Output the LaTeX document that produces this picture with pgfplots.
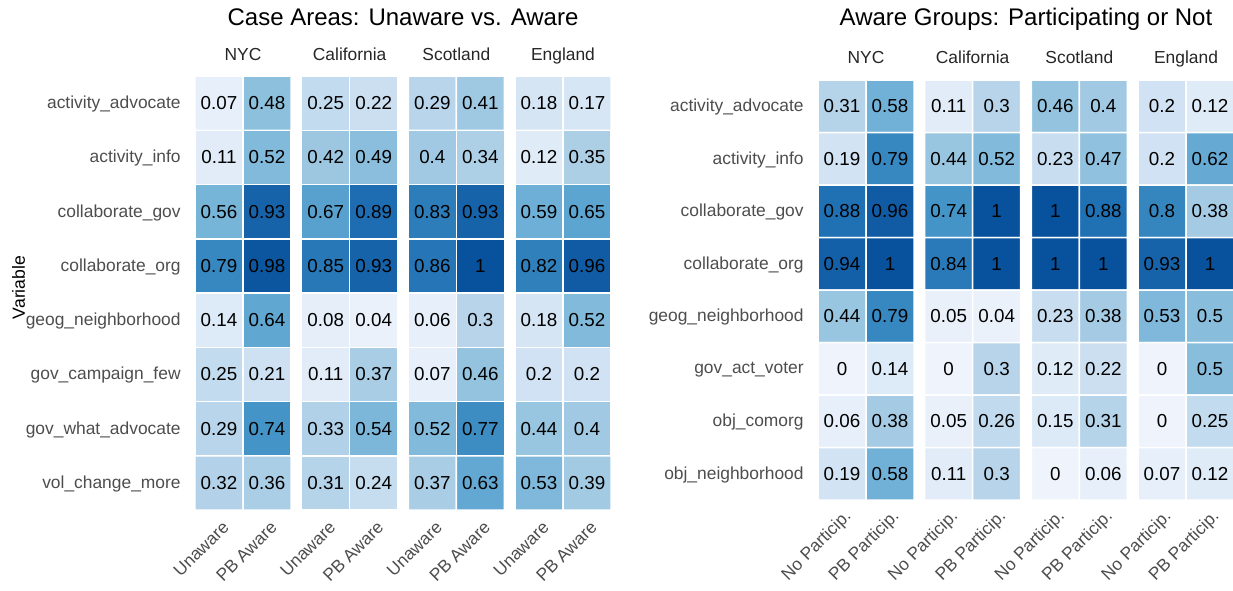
\documentclass[border=0pt]{standalone}
\usepackage{pgfplots}
\pgfplotsset{compat=1.18}
\usepackage{pgfplotstable}
\usepackage{fontspec}
\setmainfont{Liberation Sans}
\definecolor{ticktxt}{HTML}{4D4D4D}
\definecolor{facettxt}{HTML}{262626}

\pgfplotsset{
  colormap={sbblues}{rgb255(0pt)=(239,244,252) rgb255(15pt)=(220,233,247) rgb255(30pt)=(183,212,234) rgb255(45pt)=(150,196,223) rgb255(60pt)=(107,174,214) rgb255(75pt)=(66,146,198) rgb255(87.5pt)=(33,113,181) rgb255(100pt)=(8,81,156)},
  heat/.style={matrix plot*, shader=faceted, faceted color=white, line width=0.75pt, mesh/cols=2, point meta=explicit},
  annot/.style={only marks, mark=*, mark size=0pt, mark options={draw=none,fill=none}, point meta=explicit,
    nodes near coords={\pgfmathprintnumber[assume math mode=true,fixed,precision=2]{\pgfplotspointmeta}},
    every node near coord/.append style={anchor=center, text=black, font=\fontsize{9.4}{11}\selectfont}},
  panel/.style={scale only axis, width=208pt,
    xmin=-0.5, xmax=8.1667, ymin=-0.5, ymax=7.5, y dir=reverse,
    axis line style={draw=none}, major tick length=0pt, clip=false,
    colormap name=sbblues, point meta min=0, point meta max=1,
    xtick={0,1,2.2222,3.2222,4.4444,5.4444,6.6667,7.6667},
    ytick={0,1,2,3,4,5,6,7},
    ticklabel style={font=\fontsize{8.7}{10}\selectfont, text=ticktxt},
    yticklabel style={anchor=east, inner sep=0pt, xshift=-7pt, yshift=-0.5pt},
    xticklabel style={xshift=3.5pt, yshift=-7pt, rotate=45, anchor=east, inner sep=0pt},
  },
}
\tikzset{facet/.style={anchor=base, font=\fontsize{8.7}{10}\selectfont, text=facettxt}}

% Left panel: Unaware (c=0) vs PB Aware (c=1)
\pgfplotstableread{
c r v
0 0 0.07
1 0 0.48
0 1 0.11
1 1 0.52
0 2 0.56
1 2 0.93
0 3 0.79
1 3 0.98
0 4 0.14
1 4 0.64
0 5 0.25
1 5 0.21
0 6 0.29
1 6 0.74
0 7 0.32
1 7 0.36
}\LNYC
\pgfplotstableread{
c r v
0 0 0.25
1 0 0.22
0 1 0.42
1 1 0.49
0 2 0.67
1 2 0.89
0 3 0.85
1 3 0.93
0 4 0.08
1 4 0.04
0 5 0.11
1 5 0.37
0 6 0.33
1 6 0.54
0 7 0.31
1 7 0.24
}\LCAL
\pgfplotstableread{
c r v
0 0 0.29
1 0 0.41
0 1 0.4
1 1 0.34
0 2 0.83
1 2 0.93
0 3 0.86
1 3 1
0 4 0.06
1 4 0.3
0 5 0.07
1 5 0.46
0 6 0.52
1 6 0.77
0 7 0.37
1 7 0.63
}\LSCO
\pgfplotstableread{
c r v
0 0 0.18
1 0 0.17
0 1 0.12
1 1 0.35
0 2 0.59
1 2 0.65
0 3 0.82
1 3 0.96
0 4 0.18
1 4 0.52
0 5 0.2
1 5 0.2
0 6 0.44
1 6 0.4
0 7 0.53
1 7 0.39
}\LENG

% Right panel: No Particip. (c=0) vs PB Particip. (c=1)
\pgfplotstableread{
c r v
0 0 0.31
1 0 0.58
0 1 0.19
1 1 0.79
0 2 0.88
1 2 0.96
0 3 0.94
1 3 1
0 4 0.44
1 4 0.79
0 5 0
1 5 0.14
0 6 0.06
1 6 0.38
0 7 0.19
1 7 0.58
}\RNYC
\pgfplotstableread{
c r v
0 0 0.11
1 0 0.3
0 1 0.44
1 1 0.52
0 2 0.74
1 2 1
0 3 0.84
1 3 1
0 4 0.05
1 4 0.04
0 5 0
1 5 0.3
0 6 0.05
1 6 0.26
0 7 0.11
1 7 0.3
}\RCAL
\pgfplotstableread{
c r v
0 0 0.46
1 0 0.4
0 1 0.23
1 1 0.47
0 2 1
1 2 0.88
0 3 1
1 3 1
0 4 0.23
1 4 0.38
0 5 0.12
1 5 0.22
0 6 0.15
1 6 0.31
0 7 0
1 7 0.06
}\RSCO
\pgfplotstableread{
c r v
0 0 0.2
1 0 0.12
0 1 0.2
1 1 0.62
0 2 0.8
1 2 0.38
0 3 0.93
1 3 1
0 4 0.53
1 4 0.5
0 5 0
1 5 0.5
0 6 0
1 6 0.25
0 7 0.07
1 7 0.12
}\RENG

\begin{document}
\begin{tikzpicture}[x=1pt,y=1pt]
\useasboundingbox (0,0) rectangle (616.5,-295);

\begin{axis}[panel, at={(97.5pt,-255pt)}, anchor=south west, height=217pt,
  xticklabels={Unaware,PB Aware,Unaware,PB Aware,Unaware,PB Aware,Unaware,PB Aware},
  yticklabels={activity\_advocate,activity\_info,collaborate\_gov,collaborate\_org,geog\_neighborhood,gov\_campaign\_few,gov\_what\_advocate,vol\_change\_more},
]
\addplot[heat] table[x expr=\thisrow{c}, y=r, meta=v] \LNYC;
\addplot[heat] table[x expr=\thisrow{c}+2.2222, y=r, meta=v] \LCAL;
\addplot[heat] table[x expr=\thisrow{c}+4.4444, y=r, meta=v] \LSCO;
\addplot[heat] table[x expr=\thisrow{c}+6.6667, y=r, meta=v] \LENG;
\addplot[annot] table[x expr=\thisrow{c}, y=r, meta=v] \LNYC;
\addplot[annot] table[x expr=\thisrow{c}+2.2222, y=r, meta=v] \LCAL;
\addplot[annot] table[x expr=\thisrow{c}+4.4444, y=r, meta=v] \LSCO;
\addplot[annot] table[x expr=\thisrow{c}+6.6667, y=r, meta=v] \LENG;
\node[facet] at (axis cs:0.5,-0.795) {NYC};
\node[facet] at (axis cs:2.7222,-0.795) {California};
\node[facet] at (axis cs:4.9444,-0.795) {Scotland};
\node[facet] at (axis cs:7.1667,-0.795) {England};
\end{axis}

\begin{axis}[panel, at={(409pt,-250pt)}, anchor=south west, height=210pt,
  xticklabels={No Particip.,PB Particip.,No Particip.,PB Particip.,No Particip.,PB Particip.,No Particip.,PB Particip.},
  yticklabels={activity\_advocate,activity\_info,collaborate\_gov,collaborate\_org,geog\_neighborhood,gov\_act\_voter,obj\_comorg,obj\_neighborhood},
]
\addplot[heat] table[x expr=\thisrow{c}, y=r, meta=v] \RNYC;
\addplot[heat] table[x expr=\thisrow{c}+2.2222, y=r, meta=v] \RCAL;
\addplot[heat] table[x expr=\thisrow{c}+4.4444, y=r, meta=v] \RSCO;
\addplot[heat] table[x expr=\thisrow{c}+6.6667, y=r, meta=v] \RENG;
\addplot[annot] table[x expr=\thisrow{c}, y=r, meta=v] \RNYC;
\addplot[annot] table[x expr=\thisrow{c}+2.2222, y=r, meta=v] \RCAL;
\addplot[annot] table[x expr=\thisrow{c}+4.4444, y=r, meta=v] \RSCO;
\addplot[annot] table[x expr=\thisrow{c}+6.6667, y=r, meta=v] \RENG;
\node[facet] at (axis cs:0.5,-0.824) {NYC};
\node[facet] at (axis cs:2.7222,-0.824) {California};
\node[facet] at (axis cs:4.9444,-0.824) {Scotland};
\node[facet] at (axis cs:7.1667,-0.824) {England};
\end{axis}

\node[anchor=base, font=\fontsize{12}{14}\selectfont] at (201.5,-12.5) {Case Areas: Unaware vs. Aware};
\node[anchor=base, font=\fontsize{12}{14}\selectfont] at (513,-12.5) {Aware Groups: Participating or Not};
\node[rotate=90, anchor=base, font=\fontsize{8.8}{10}\selectfont] at (12.5,-143.75) {Variable};
\end{tikzpicture}
\end{document}
